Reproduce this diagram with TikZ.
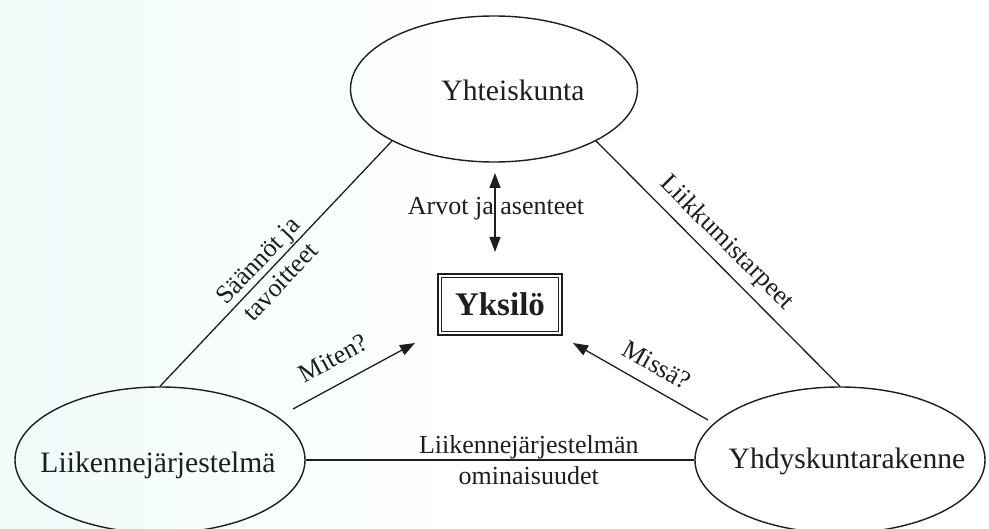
\documentclass[tikz,border=0pt]{standalone}
\usepackage{fontspec}
\setmainfont{Liberation Serif}
\usetikzlibrary{shapes.geometric,arrows.meta,calc}
\definecolor{ink}{RGB}{30,30,30}
\definecolor{tint}{RGB}{240,251,250}

\begin{document}
\begin{tikzpicture}[x=1pt,y=-1pt,
  every node/.style={text=ink},
  oval/.style={draw=ink, line width=1.4pt, ellipse, inner sep=0pt,
               minimum width=290pt, minimum height=146pt},
  ovaltext/.style={font=\fontsize{29.6}{35}\selectfont, anchor=base, inner sep=0pt},
  tag/.style={font=\fontsize{26}{31}\selectfont, inner sep=2pt},
  link/.style={draw=ink, line width=1.3pt},
  pointer/.style={link, -{Triangle[length=15pt,width=11pt]}},
]
% paper
\fill[white] (0,0) rectangle (989,529);
\shade[left color=tint, right color=white] (0,0) rectangle (480,529);
\useasboundingbox (0,0) rectangle (989,529);

% the three actors
\node[oval, minimum width=287pt] (soc) at (494,89) {};
\node[oval] (trans) at (160,460) {};
\node[oval] (urban) at (840,460) {};
\node[ovaltext] (socT) at ($(soc)+(19,12)$) {Yhteiskunta};
\node[ovaltext] (transT) at ($(trans)+(-2,12)$) {Liikennejärjestelmä};
\node[ovaltext] (urbanT) at ($(urban)+(7,9)$) {Yhdyskuntarakenne};

% the individual in the middle: heavy outer frame, thin inner frame
\node[draw=ink, line width=2.2pt, minimum width=123.8pt, minimum height=60.8pt,
      inner sep=0pt, font=\bfseries\fontsize{33}{38}\selectfont] (ind) at (500,304.5) {Yksilö};
\draw[ink, line width=1.2pt] ($(ind.north west)+(4.4,4.4)$) rectangle ($(ind.south east)+(-4.4,-4.4)$);

% sides of the triangle
\draw[link] (trans.north) -- (soc.207)
  node[tag, sloped, pos=0.47, align=center] (rules) {Säännöt ja\\tavoitteet};
\draw[link] (soc.333) -- (urban.north)
  node[tag, sloped, above=6pt, pos=0.475] (needs) {Liikkumistarpeet};
\draw[link] (trans.east) -- (urban.west)
  node[tag, pos=0.574, align=center] (props) {Liikennejärjestelmän\\ominaisuudet};

% influences on the individual
\coordinate (vTop) at (495,173);
\coordinate (vBot) at (495,252);
\draw[link, {Triangle[length=15pt,width=11pt]}-{Triangle[length=15pt,width=11pt]}] (vTop) -- (vBot);
\node[tag, anchor=base] (values) at (496,215) {Arvot ja asenteet};

\coordinate (mFrom) at (293,409);
\coordinate (mTo) at (415,343);
\draw[pointer] (mFrom) -- (mTo)
  node[tag, sloped, above=14pt, pos=0.43] (how) {Miten?};

\coordinate (sFrom) at (708,420);
\coordinate (sTo) at (573,343);
\draw[link, {Triangle[length=15pt,width=11pt]}-] (sTo) -- (sFrom)
  node[tag, sloped, above=11pt, pos=0.54] (where) {Missä?};
\end{tikzpicture}
\end{document}
